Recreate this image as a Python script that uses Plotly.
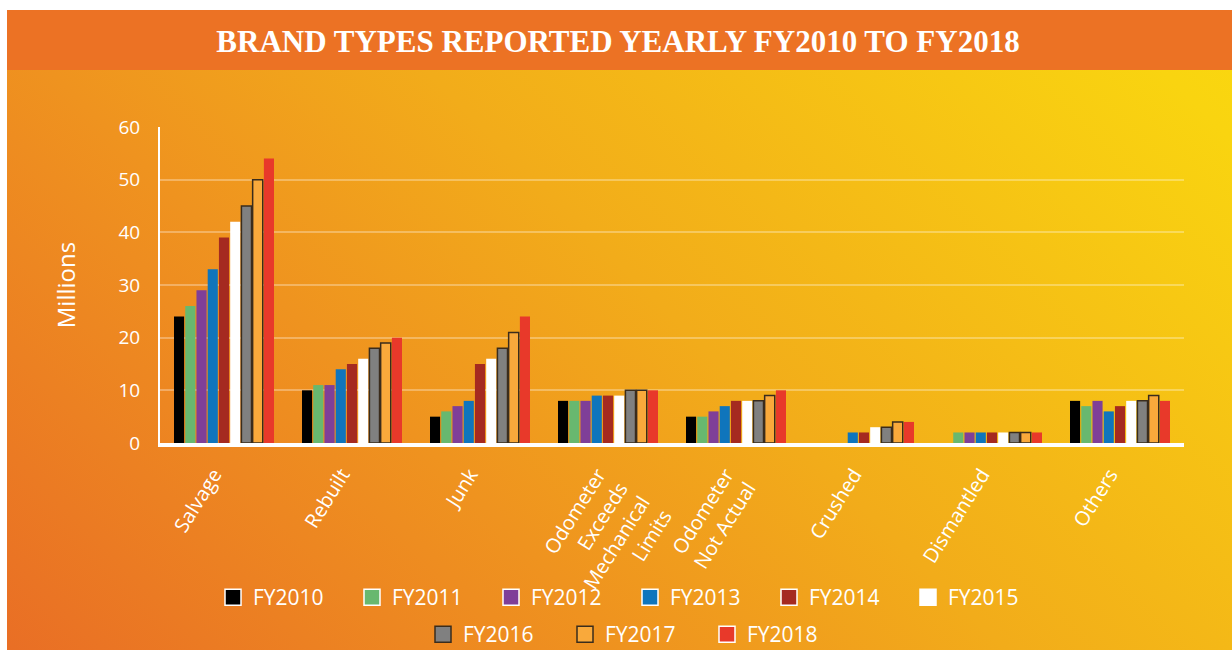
import base64
import plotly.graph_objects as go

# Brand types reported yearly, in millions
categories = ["Salvage", "Rebuilt", "Junk", "Odometer<br>Exceeds<br>Mechanical<br>Limits",
              "Odometer<br>Not Actual", "Crushed", "Dismantled", "Others"]
years = ["FY2010", "FY2011", "FY2012", "FY2013", "FY2014",
         "FY2015", "FY2016", "FY2017", "FY2018"]

fy2010 = [24, 10, 5, 8, 5, 0, 0, 8]
fy2011 = [26, 11, 6, 8, 5, 0, 2, 7]
fy2012 = [29, 11, 7, 8, 6, 0, 2, 8]
fy2013 = [33, 14, 8, 9, 7, 2, 2, 6]
fy2014 = [39, 15, 15, 9, 8, 2, 2, 7]
fy2015 = [42, 16, 16, 9, 8, 3, 2, 8]
fy2016 = [45, 18, 18, 10, 8, 3, 2, 8]
fy2017 = [50, 19, 21, 10, 9, 4, 2, 9]
fy2018 = [54, 20, 24, 10, 10, 4, 2, 8]

series = [fy2010, fy2011, fy2012, fy2013, fy2014, fy2015, fy2016, fy2017, fy2018]
colors = ["#000000", "#68B86F", "#7F3F98", "#0F75BC", "#A52A20",
          "#FFFFFF", "#808080", "#F9A93B", "#E8392A"]
outline_w = [0, 0, 0, 0, 0, 0, 1.5, 1.5, 0]
legend_outline = ["#FFFFFF"] * 6 + ["#3A2C1C", "#3A2C1C", "#FFFFFF"]

W, H = 1232, 650
L, R, T, B = 160, 48, 127, 207
pw, ph = W - L - R, H - T - B

# background: white frame, diagonal orange->yellow gradient, orange title banner
svg = f"""<svg xmlns="http://www.w3.org/2000/svg" width="{W}" height="{H}" preserveAspectRatio="none">
<defs><linearGradient id="g" gradientUnits="userSpaceOnUse" x1="0" y1="650" x2="1050" y2="-400">
<stop offset="0" stop-color="#E96E25"/><stop offset="0.3" stop-color="#EF931F"/>
<stop offset="0.48" stop-color="#F2AC1A"/><stop offset="0.83" stop-color="#F9D410"/>
<stop offset="1" stop-color="#FBDF0C"/></linearGradient></defs>
<rect width="{W}" height="{H}" fill="#FFFFFF"/>
<rect x="7" y="10" width="{W - 7}" height="{H - 10}" fill="url(#g)"/>
<rect x="7" y="10" width="{W - 7}" height="60" fill="#EC7224"/>
</svg>"""
bg = "data:image/svg+xml;base64," + base64.b64encode(svg.encode()).decode()

fig = go.Figure()
for name, vals, c, lw in zip(years, series, colors, outline_w):
    fig.add_trace(go.Bar(x=categories, y=vals, name=name, marker_color=c,
                         marker_line=dict(color="#3A2C1C", width=lw), showlegend=False))

# legend entries (two centered rows)
for i, (name, c, lc) in enumerate(zip(years, colors, legend_outline)):
    fig.add_trace(go.Scatter(x=[None], y=[None], mode="markers", name=name,
                             marker=dict(symbol="square", size=16, color=c,
                                         line=dict(color=lc, width=1.5)),
                             legend="legend" if i < 6 else "legend2"))

font = "Open Sans, Noto Sans, sans-serif"
legend_style = dict(orientation="h", xanchor="center", yanchor="top",
                    bgcolor="rgba(0,0,0,0)", itemwidth=30,
                    font=dict(family=font, size=21, color="#FFFFFF"))

fig.update_layout(
    width=W, height=H,
    margin=dict(l=L, r=R, t=T, b=B, autoexpand=False),
    paper_bgcolor="#FFFFFF", plot_bgcolor="rgba(0,0,0,0)",
    barmode="group", bargap=0.21, bargroupgap=0.1,
    font=dict(family=font, color="#FFFFFF"),
    title=dict(text="<b>BRAND TYPES REPORTED YEARLY FY2010 TO FY2018</b>",
               x=618 / W, xref="container", xanchor="center", y=1 - 41 / H, yanchor="middle",
               font=dict(family="Liberation Serif, serif", size=31, color="#FFFFFF")),
    images=[dict(source=bg, xref="paper", yref="paper", x=-L / pw, y=1 + T / ph,
                 sizex=W / pw, sizey=H / ph, sizing="stretch", layer="below",
                 xanchor="left", yanchor="top")],
    legend=dict(y=-(577 - (T + ph)) / ph, x=(630 - L) / pw, entrywidth=94, **legend_style),
    legend2=dict(y=-(614 - (T + ph)) / ph, x=(636 - L) / pw, entrywidth=97, **legend_style),
    xaxis=dict(showgrid=False, showline=True, linecolor="#FFFFFF", linewidth=4,
               tickangle=-58, tickfont=dict(family=font, size=20, color="#FFFFFF"),
               ticks="", ticklabelstandoff=8, ticklabelshift=-10),
    yaxis=dict(range=[0, 60], dtick=10, showgrid=True, gridcolor="rgba(255,255,255,0.3)",
               gridwidth=2, showline=True, linecolor="#FFFFFF", linewidth=2,
               zeroline=False, ticks="", ticklabelstandoff=14,
               tickfont=dict(family=font, size=19, color="#FFFFFF"),
               title=dict(text="Millions", standoff=36,
                          font=dict(family=font, size=24, color="#FFFFFF"))),
)

fig.write_html("out.html", config={"displayModeBar": False},
               post_script="document.body.style.margin='0px';")
